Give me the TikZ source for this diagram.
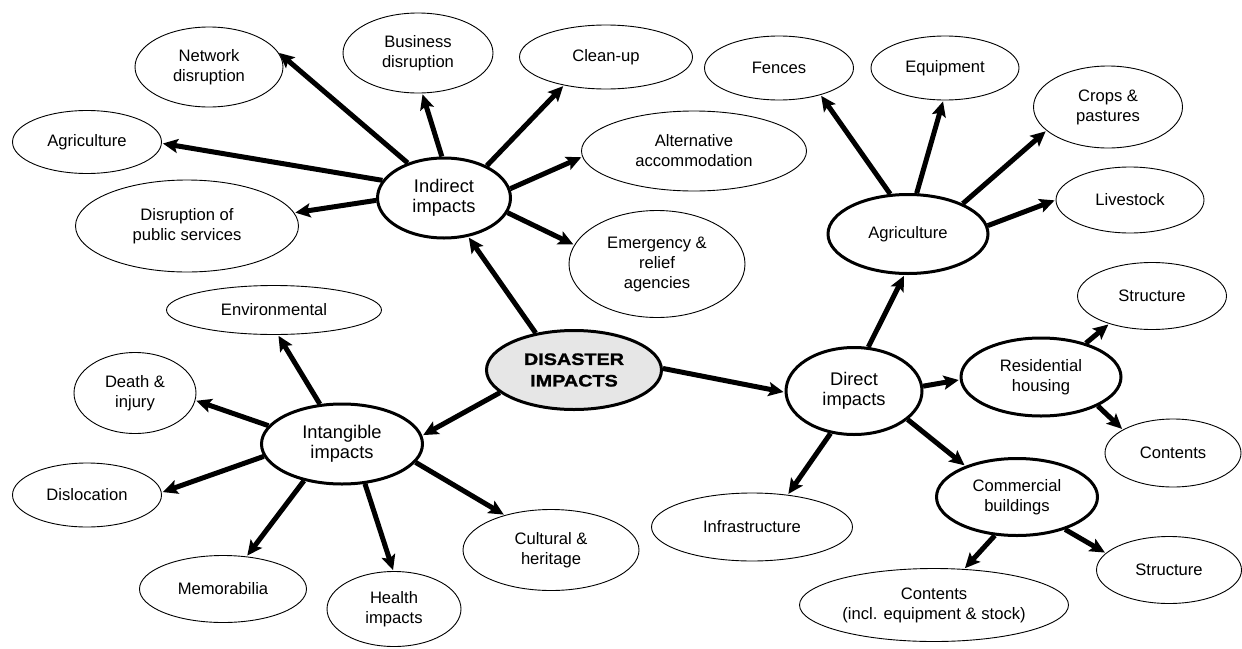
\documentclass[tikz,border=0pt]{standalone}
\usepackage{fontspec}
\setmainfont{Liberation Sans}
\newfontfamily\heavyfont[FakeStretch=1.2,FakeBold=1.4]{Liberation Sans Bold}
\usetikzlibrary{shapes.geometric,arrows.meta}
\newcommand\lbltxt{\fontsize{16.6}{20}\selectfont}
\newcommand\bigtxt{\fontsize{18.3}{20.5}\selectfont}
\definecolor{hubgray}{HTML}{E6E6E6}
\tikzset{
  leaf/.style={ellipse, draw, line width=0.9pt, fill=white, align=center, inner sep=0pt, font=\lbltxt},
  hub/.style={ellipse, draw, line width=3pt, fill=white, align=center, inner sep=0pt, font=\lbltxt},
  arr/.style={line width=5pt, -{Stealth[length=15pt,width=14pt,inset=3pt]}, shorten >=1pt},
}
\begin{document}
\begin{tikzpicture}[x=1pt,y=-1pt]
\useasboundingbox (0,0) rectangle (1242,648);
% hubs
\node[hub, fill=hubgray, minimum width=175pt, minimum height=79pt, font={\heavyfont\fontsize{16.5}{21.5}\selectfont}] (dis) at (574,370) {DISASTER\\IMPACTS};
\node[hub, minimum width=133pt, minimum height=80pt, font=\bigtxt] (ind) at (444,198) {Indirect\\impacts};
\node[hub, minimum width=161pt, minimum height=80pt, font=\bigtxt] (int) at (342,444) {Intangible\\impacts};
\node[hub, minimum width=136pt, minimum height=87pt, font=\bigtxt] (dir) at (854,391) {Direct\\impacts};
\node[hub, minimum width=160pt, minimum height=79pt] (agd) at (908,234) {Agriculture};
\node[hub, minimum width=160pt, minimum height=78pt] (res) at (1041,377) {Residential\\housing};
\node[hub, minimum width=161pt, minimum height=77pt] (com) at (1017,497) {Commercial\\buildings};
% leaves
\node[leaf, minimum width=148pt, minimum height=80pt] (net) at (209,67) {Network\\disruption};
\node[leaf, minimum width=150pt, minimum height=80pt] (bus) at (418,53) {Business\\disruption};
\node[leaf, minimum width=173pt, minimum height=64pt] (cln) at (606,57) {Clean-up};
\node[leaf, minimum width=149pt, minimum height=63pt] (agi) at (87,142) {Agriculture};
\node[leaf, minimum width=223pt, minimum height=92pt] (dps) at (187,226) {Disruption of\\public services};
\node[leaf, minimum width=225pt, minimum height=80pt] (alt) at (694,151) {Alternative\\accommodation};
\node[leaf, minimum width=176pt, minimum height=107pt] (emg) at (657,264) {Emergency \&\\relief\\agencies};
\node[leaf, minimum width=149pt, minimum height=64pt] (fen) at (779,68) {Fences};
\node[leaf, minimum width=148pt, minimum height=64pt] (eqp) at (945,68) {Equipment};
\node[leaf, minimum width=149pt, minimum height=82pt] (crp) at (1108,107) {Crops \&\\pastures};
\node[leaf, minimum width=148pt, minimum height=66pt] (liv) at (1130,200) {Livestock};
\node[leaf, minimum width=149pt, minimum height=67pt] (st1) at (1152,296) {Structure};
\node[leaf, minimum width=136pt, minimum height=68pt] (cn1) at (1173,453) {Contents};
\node[leaf, minimum width=145pt, minimum height=67pt] (st2) at (1169,570) {Structure};
\node[leaf, minimum width=269pt, minimum height=73pt] (cn2) at (934,605) {Contents\\(incl. equipment \& stock)};
\node[leaf, minimum width=201pt, minimum height=68pt] (inf) at (752,527) {Infrastructure};
\node[leaf, minimum width=215pt, minimum height=49pt] (env) at (274,310) {Environmental};
\node[leaf, minimum width=122pt, minimum height=81pt] (dth) at (135,393) {Death \&\\injury};
\node[leaf, minimum width=149pt, minimum height=64pt] (dsl) at (87,495) {Dislocation};
\node[leaf, minimum width=167pt, minimum height=67pt] (mem) at (223,589) {Memorabilia};
\node[leaf, minimum width=134pt, minimum height=75pt] (hlt) at (394,609) {Health\\impacts};
\node[leaf, minimum width=176pt, minimum height=81pt] (cul) at (551,550) {Cultural \&\\heritage};
% arrows from the centre
\draw[arr] (dis.136) -- (ind.302);
\draw[arr] (dis.197) -- (int.6);
\draw[arr] (dis.1) -- (dir.181);
% indirect
\draw[arr] (ind.136) -- (net.12);
\draw[arr] (ind.93) -- (bus.276);
\draw[arr] (ind.37) -- (cln.214);
\draw[arr] (ind.164) -- (agi.359);
\draw[arr] (ind.182) -- (dps.7);
\draw[arr] (ind.8) -- (alt.183);
\draw[arr] (ind.347) -- (emg.167);
% direct
\draw[arr] (dir.72) -- (agd.265);
\draw[arr] (dir.4) -- (res.182);
\draw[arr] (dir.332) -- (com.149);
\draw[arr] (dir.241) -- (inf.42);
% agriculture
\draw[arr] (agd.114) -- (fen.327);
\draw[arr] (agd.78) -- (eqp.267);
\draw[arr] (agd.29) -- (crp.201);
\draw[arr] (agd.6) -- (liv.180);
% residential / commercial
\draw[arr] (res.37) -- (st1.213);
\draw[arr] (res.333) -- (cn1.155);
\draw[arr] (com.240) -- (cn2.50);
\draw[arr] (com.326) -- (st2.165);
% intangible
\draw[arr] (int.119) -- (env.279);
\draw[arr] (int.166) -- (dth.353);
\draw[arr] (int.189) -- (dsl.2);
\draw[arr] (int.224) -- (mem.54);
\draw[arr] (int.300) -- (hlt.91);
\draw[arr] (int.346) -- (cul.143);
\end{tikzpicture}
\end{document}
